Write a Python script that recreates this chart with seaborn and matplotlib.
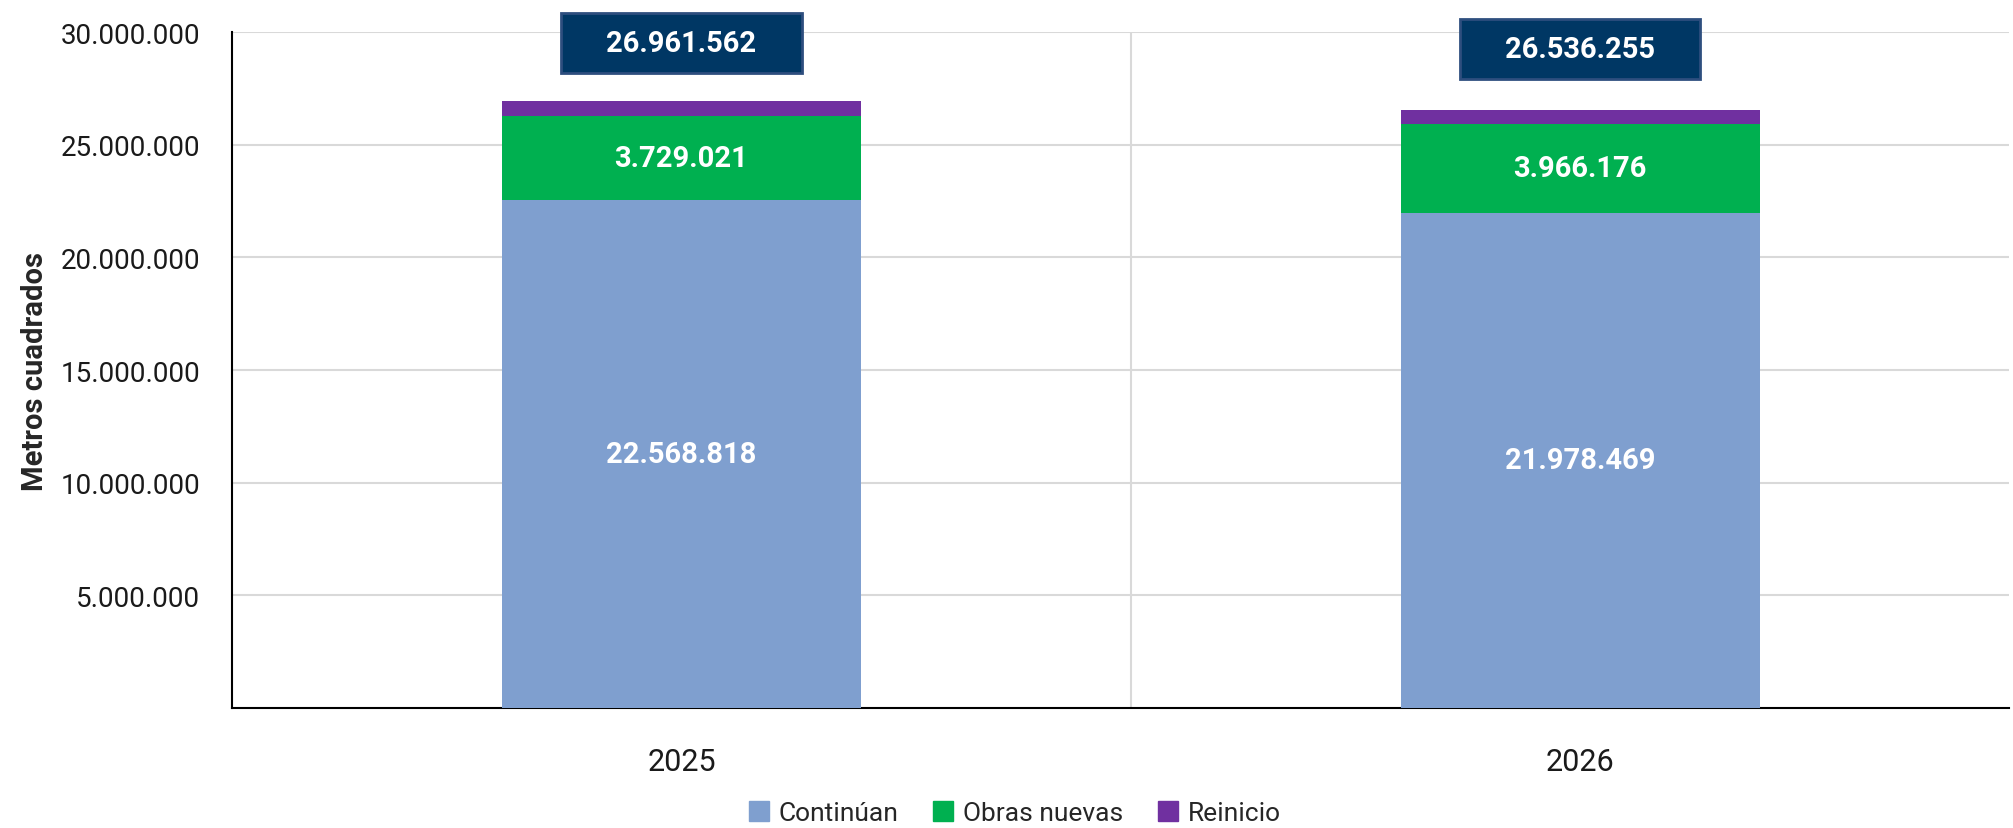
import matplotlib
matplotlib.use("Agg")
import matplotlib.pyplot as plt
import seaborn as sns
import pandas as pd
import numpy as np
from matplotlib.ticker import FuncFormatter
from matplotlib.lines import Line2D

years = ["2025", "2026"]
continuan = [22568818, 21978469]
obras_nuevas = [3729021, 3966176]
reinicio = [663723, 591610]
totales = [26961562, 26536255]
series_names = ["Continúan", "Obras nuevas", "Reinicio"]
colors = ["#7F9FCF", "#00B050", "#7030A0"]

sns.set_theme(style="white")
plt.rcParams['font.family'] = ['Roboto', 'DejaVu Sans']

def fmt(v):
    return f"{int(v):,}".replace(",", ".")

fig = plt.figure(figsize=(20.13, 8.29), dpi=100)
ax = fig.add_axes([0.1153, 0.1448, 0.8827, 0.8152])

cum_top = np.array(continuan) + np.array(obras_nuevas) + np.array(reinicio)
cum_mid = np.array(continuan) + np.array(obras_nuevas)
cum_low = np.array(continuan)

for vals, col in [(cum_top, colors[2]), (cum_mid, colors[1]), (cum_low, colors[0])]:
    df = pd.DataFrame({"year": years, "v": vals})
    sns.barplot(data=df, x="year", y="v", color=col, width=0.4, ax=ax,
                saturation=1, edgecolor="none", linewidth=0, zorder=3)

ax.set_ylim(0, 30000000)
ax.set_xlim(-0.5, 1.477)
ax.set_yticks([5000000, 10000000, 15000000, 20000000, 25000000, 30000000])
ax.yaxis.set_major_formatter(FuncFormatter(lambda v, p: fmt(v)))
ax.grid(axis="y", color="#D9D9D9", linewidth=1.5, zorder=0)
ax.axvline(0.5, color="#D9D9D9", linewidth=1.5, zorder=0)
for s in ["top", "right"]:
    ax.spines[s].set_visible(False)
for s in ["left", "bottom"]:
    ax.spines[s].set_color("black")
    ax.spines[s].set_linewidth(1.5)
ax.tick_params(axis="y", labelsize=20, colors="#1a1a1a", pad=23, length=0)
ax.tick_params(axis="x", labelsize=22, colors="#1a1a1a", pad=28, length=0)
ax.set_xlabel("")
ax.set_ylabel("Metros cuadrados", fontsize=21, fontweight="bold", labelpad=8)

for i in range(len(years)):
    ax.text(i, continuan[i] / 2, fmt(continuan[i]), ha="center", va="center",
            color="white", fontsize=21, fontweight="bold", zorder=5)
    ax.text(i, continuan[i] + obras_nuevas[i] / 2, fmt(obras_nuevas[i]), ha="center",
            va="center", color="white", fontsize=21, fontweight="bold", zorder=5)
    ax.text(i, 29500000 - i * 250000, "    " + fmt(totales[i]) + "    ",
            ha="center", va="center",
            color="white", fontsize=21, fontweight="bold", zorder=6,
            bbox=dict(boxstyle="square,pad=0.55", facecolor="#003764",
                      edgecolor="#2E4E7E", linewidth=2))

handles = [Line2D([0], [0], marker="s", linestyle="none", markersize=15,
                  markerfacecolor=c, markeredgecolor=c) for c in colors]
fig.legend(handles, series_names, loc="center", bbox_to_anchor=(0.504, 0.018),
           ncol=3, frameon=False, fontsize=19, handlelength=0.8,
           handletextpad=0.35, columnspacing=1.3)

fig.savefig("out.png", dpi=100)
